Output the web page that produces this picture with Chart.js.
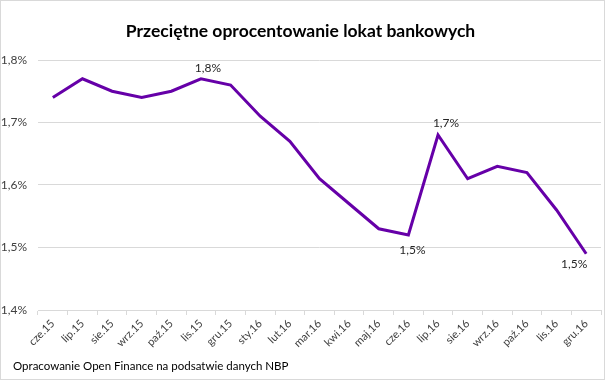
<!DOCTYPE html>
<html><head><meta charset="utf-8">
<script src="https://cdn.jsdelivr.net/npm/chart.js@4/dist/chart.umd.min.js"></script>
<style>html,body{margin:0;padding:0;background:#fff;overflow:hidden}#wrap{width:605px;height:380px;position:relative}</style>
</head><body><div id="wrap"><canvas id="c" width="605" height="380"></canvas></div>
<script>
const categories = ["cze.15","lip.15","sie.15","wrz.15","paź.15","lis.15","gru.15","sty.16","lut.16","mar.16","kwi.16","maj.16","cze.16","lip.16","sie.16","wrz.16","paź.16","lis.16","gru.16"];
const rates = [1.74,1.77,1.75,1.74,1.75,1.77,1.76,1.71,1.67,1.61,1.57,1.53,1.52,1.68,1.61,1.63,1.62,1.56,1.49];
const yTicks = [1.4,1.5,1.6,1.7,1.8];
const labeledPoints = [5,12,13,18];
const titleText = "Przeciętne oprocentowanie lokat bankowych";
const sourceText = "Opracowanie Open Finance na podsatwie danych NBP";

const FONT = "Lato, 'Liberation Sans', sans-serif";
const fmt = v => v.toFixed(1).replace('.', ',') + '%';

const labelOffsets = {5:[7,-11],12:[4,15],13:[8,-12],18:[-12,10]};

const pointLabels = {
  id: 'pointLabels',
  afterDatasetsDraw(chart) {
    const ctx = chart.ctx;
    const meta = chart.getDatasetMeta(0);
    ctx.save();
    ctx.font = "12px " + FONT;
    ctx.fillStyle = '#262626';
    ctx.textAlign = 'center';
    ctx.textBaseline = 'middle';
    labeledPoints.forEach(i => {
      const p = meta.data[i];
      const o = labelOffsets[i] || [0,-12];
      ctx.fillText(fmt(rates[i]), p.x + o[0], p.y + o[1]);
    });
    ctx.restore();
  }
};
const footer = {
  id: 'footer',
  afterDraw(chart) {
    const ctx = chart.ctx;
    ctx.save();
    ctx.font = "11.5px " + FONT;
    ctx.fillStyle = '#000';
    ctx.textAlign = 'left';
    ctx.textBaseline = 'middle';
    ctx.fillText(sourceText, 13, chart.height - 14);
    ctx.restore();
  }
};
const frame = {
  id: 'frame',
  beforeDraw(chart) {
    const ctx = chart.ctx;
    ctx.save();
    ctx.fillStyle = '#fff';
    ctx.fillRect(0,0,chart.width,chart.height);
    ctx.restore();
  },
  afterDraw(chart) {
    const ctx = chart.ctx;
    ctx.save();
    ctx.strokeStyle = '#d9d9d9';
    ctx.lineWidth = 1;
    ctx.strokeRect(0.5,0.5,chart.width-1,chart.height-1);
    ctx.restore();
  }
};

new Chart(document.getElementById('c'), {
  type: 'line',
  data: {
    labels: categories,
    datasets: [{
      data: rates,
      borderColor: '#6600a8',
      borderWidth: 3,
      pointRadius: 0,
      tension: 0,
      fill: false
    }]
  },
  options: {
    responsive: false,
    animation: false,
    devicePixelRatio: 1,
    layout: { padding: { left: 0, right: 4, top: 0, bottom: 28 } },
    plugins: {
      legend: { display: false },
      tooltip: { enabled: false },
      title: {
        display: true, text: titleText,
        color: '#000',
        font: { family: FONT, size: 17.5, weight: 'bold' },
        padding: { top: 21, bottom: 18 }
      }
    },
    scales: {
      x: {
        type: 'category',
        offset: true,
        grid: { display: true, drawOnChartArea: false, drawTicks: true, tickLength: 5, offset: true, color: '#d9d9d9' },
        border: { display: true, color: '#d9d9d9' },
        ticks: { minRotation: 45, maxRotation: 45, autoSkip: false, color: '#404040', font: { family: FONT, size: 11 }, padding: 2 },
        afterFit(s) { s.height = 42; }
      },
      y: {
        min: 1.4, max: 1.8,
        afterBuildTicks(s) { s.ticks = yTicks.map(v => ({ value: v })); },
        grid: { color: '#d9d9d9', drawTicks: false },
        border: { display: false },
        ticks: { color: '#404040', font: { family: FONT, size: 12 }, padding: 11, callback: v => fmt(v) },
        afterFit(s) { s.width = 38; }
      }
    }
  },
  plugins: [frame, pointLabels, footer]
});
</script>
</body></html>
